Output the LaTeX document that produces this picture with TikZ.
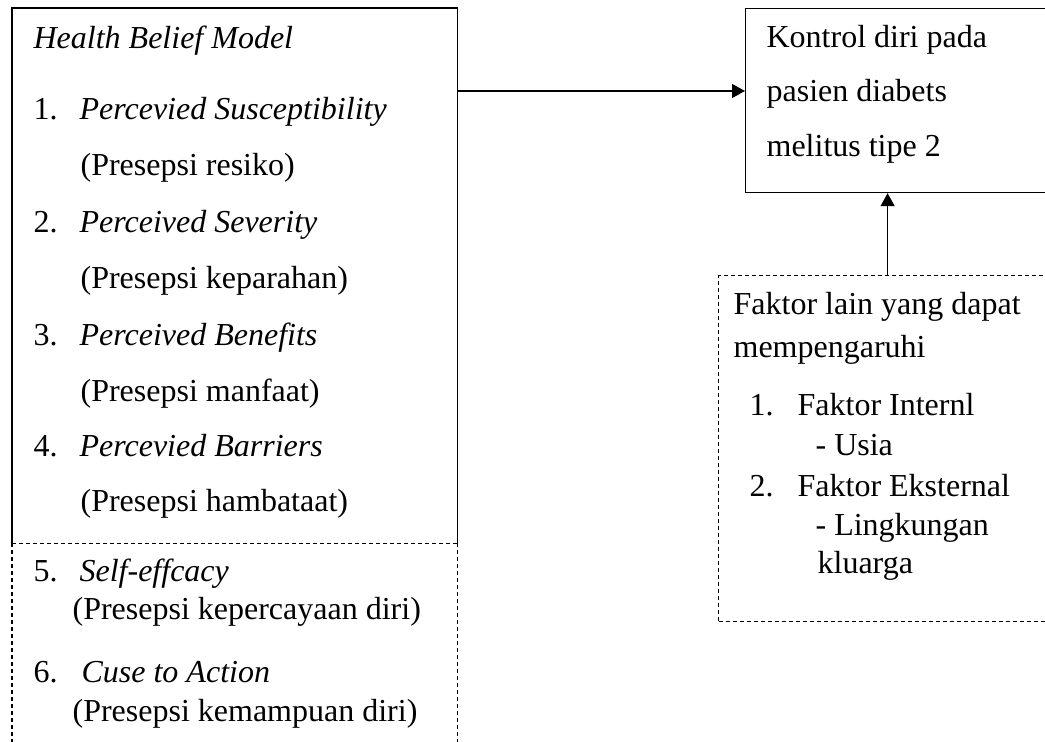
\documentclass[tikz,border=0pt]{standalone}
\usepackage{fontspec}
\setmainfont{Liberation Serif}
\usetikzlibrary{arrows.meta}

\begin{document}
\begin{tikzpicture}[x=0.5pt, y=-0.5pt, line width=0.6pt,
  font=\fontsize{16}{19}\selectfont,
  txt/.style={anchor=base west, inner sep=0pt},
  box/.style={anchor=north west, inner sep=0pt},
  dashline/.style={dash pattern=on 2pt off 1.5pt},
  tip/.style={-{Triangle[length=6.5pt, width=7pt]}}]
\useasboundingbox (0,0) rectangle (1045,742);
% boxes
\node[box, minimum width=222pt, minimum height=267pt] (hbm) at (12,8) {};
\node[box, minimum width=222pt, minimum height=100pt] (hbmx) at (hbm.south west) {};
\node[box, draw, minimum width=152.5pt, minimum height=92pt] (kontrol) at (745,8) {};
\node[box, draw, dashline, minimum width=166pt, minimum height=173pt] (faktor) at (718,275) {};
\draw (hbm.south west) -- (hbm.north west) -- (hbm.north east) -- (hbm.south east);
\draw[dashline] (hbm.south west) -- (hbm.south east);
\draw[dashline] (hbmx.north west) -- (hbmx.south west);
\draw[dashline] (hbmx.north east) -- (hbmx.south east);
% arrows
\coordinate (lvl) at (0,91);
\draw[tip] (hbm.east |- lvl) -- (kontrol.west |- lvl);
\draw[tip] ([xshift=1.5pt]faktor.north) -- ([xshift=1.5pt]faktor.north |- kontrol.south);
% health belief model
\node[txt] (judul) at (33,49) {\textit{Health Belief Model}};
\node[txt] (n1) at (33,120) {1.};
\node[txt] (p1) at (79,120) {\textit{Percevied Susceptibility}};
\node[txt] (q1) at (80,176) {(Presepsi resiko)};
\node[txt] (n2) at (33,233) {2.};
\node[txt] (p2) at (79,233) {\textit{Perceived Severity}};
\node[txt] (q2) at (80,289) {(Presepsi keparahan)};
\node[txt] (n3) at (33,346) {3.};
\node[txt] (p3) at (79,346) {\textit{Perceived Benefits}};
\node[txt] (q3) at (80,402) {(Presepsi manfaat)};
\node[txt] (n4) at (33,457) {4.};
\node[txt] (p4) at (79,457) {\textit{Percevied Barriers}};
\node[txt] (q4) at (80,512) {(Presepsi hambataat)};
\node[txt] (n5) at (33,582) {5.};
\node[txt] (p5) at (79,582) {\textit{Self-effcacy}};
\node[txt] (q5) at (72,620) {(Presepsi kepercayaan diri)};
\node[txt] (n6) at (33,683) {6.};
\node[txt] (p6) at (81,683) {\textit{Cuse to Action}};
\node[txt] (q6) at (72,722) {(Presepsi kemampuan diri)};
% kontrol diri
\node[txt] (k1) at (766,48) {Kontrol diri pada};
\node[txt] (k2) at (766,102) {pasien diabets};
\node[txt] (k3) at (766,157) {melitus tipe 2};
% faktor lain
\node[txt] (f1) at (733,315) {Faktor lain yang dapat};
\node[txt] (f2) at (733,358) {mempengaruhi};
\node[txt] (m1) at (749,416) {1.};
\node[txt] (i1) at (797,416) {Faktor Internl};
\node[txt] (u1) at (815,456) {- Usia};
\node[txt] (m2) at (749,497) {2.};
\node[txt] (i2) at (797,497) {Faktor Eksternal};
\node[txt] (u2) at (815,536) {- Lingkungan};
\node[txt] (u3) at (817,574) {kluarga};
\end{tikzpicture}
\end{document}
